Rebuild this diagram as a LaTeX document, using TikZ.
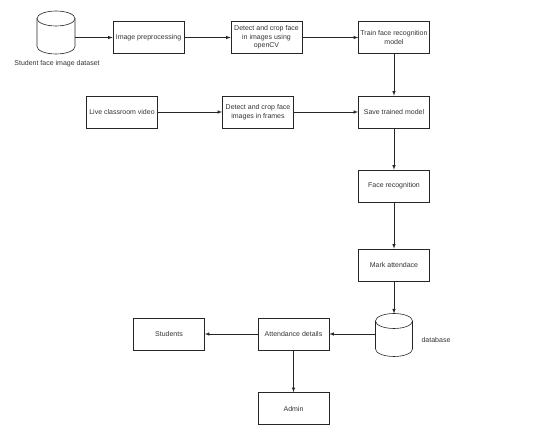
\documentclass[tikz,border=0pt]{standalone}
\usepackage{fontspec}
\setmainfont{Liberation Sans}
\usepackage{tikz}
\usetikzlibrary{shapes.geometric, arrows}
\tikzstyle{arrow} = [->,>=latex,line width=0.6pt,draw=black!85]
\tikzstyle{process} = [rectangle, draw=black!85, line width=0.6pt, minimum width=71pt, minimum height=32pt, align=center, text=black!80, inner sep=1pt]
\tikzstyle{store} = [rectangle, outer sep=0pt, inner sep=0pt]
\tikzstyle{storeline} = [draw=black!85, line width=0.6pt]
\tikzstyle{caption} = [text=black!80]

% Drum outline round a store node: #1 node, #2 half width
\newcommand{\drum}[2]{
	\draw [storeline] ([yshift=-7.5pt]#1.north) ellipse [x radius=#2, y radius=7.5pt];
	\draw [storeline] ([yshift=-7.5pt]#1.north west) -- ([yshift=7.5pt]#1.south west)
		arc [start angle=180, end angle=360, x radius=#2, y radius=7.5pt]
		-- ([yshift=-7.5pt]#1.north east);
}

\begin{document}
\begin{tikzpicture}[x=1pt,y=-1pt,font=\fontsize{7}{8.4}\selectfont]
	\useasboundingbox (0,0) rectangle (539,438);
	
	% Training branch:
	% The data set and the first row of steps
	\node [store, minimum width=38pt, minimum height=43pt] (dataset) at (56,32.5) {};
	\drum{dataset}{19pt}
	\node [caption] (datasetlabel) at (57,64) {Student face image dataset};
	\node [process] (preproc) at (148.5,37.5) {Image preprocessing};
	\node [process] (cropcv) at (266.5,37.5) {Detect and crop face\\in images using\\openCV};
	\node [process] (train) at (394,37.5) {Train face recognition\\model};
	
	% Live branch:
	\node [process] (video) at (122,112) {Live classroom video};
	\node [process] (cropframes) at (258,112) {Detect and crop face\\images in frames};
	\node [process] (save) at (394,112) {Save trained model};
	
	% Recognition and attendance:
	\node [process] (recog) at (394,186) {Face recognition};
	\node [process] (mark) at (394,265) {Mark attendace};
	\node [store, minimum width=37pt, minimum height=43pt] (db) at (394,335) {};
	\drum{db}{18.5pt}
	\node [caption] (dblabel) at (436,340) {database};
	\node [process] (details) at (293.5,334) {Attendance details};
	\node [process] (students) at (169,334) {Students};
	\node [process] (admin) at (293.5,408.5) {Admin};
	
	% Arrows:
	\draw [arrow] (dataset.east |- preproc.west) -- (preproc.west);
	\draw [arrow] (preproc) -- (cropcv);
	\draw [arrow] (cropcv) -- (train);
	\draw [arrow] (train) -- (save);
	\draw [arrow] (video) -- (cropframes);
	\draw [arrow] (cropframes) -- (save);
	\draw [arrow] (save) -- (recog);
	\draw [arrow] (recog) -- (mark);
	\draw [arrow] (mark) -- (db);
	\draw [arrow] (db.west |- details.east) -- (details.east);
	\draw [arrow] (details) -- (students);
	\draw [arrow] (details) -- (admin);
	
\end{tikzpicture}
\end{document}
